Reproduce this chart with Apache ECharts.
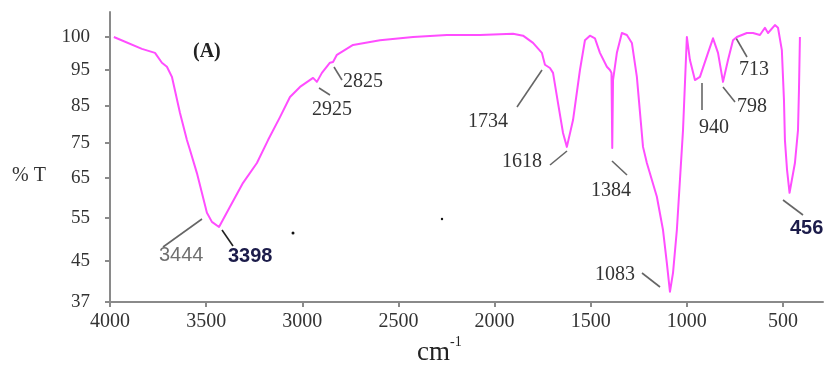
<!DOCTYPE html>
<html><head><meta charset="utf-8">
<script src="https://cdn.jsdelivr.net/npm/echarts@6/dist/echarts.min.js"></script>
<style>html,body{margin:0;padding:0;background:#fff}#c{width:830px;height:369px}</style>
</head><body><div id="c"></div>
<script>
// ---- data ----
const wavenumbers = [3980,3834,3766,3730,3704,3678,3636,3600,3584,3548,3496,3470,3433,3376,3308,3236,3178,3116,3064,3012,2944,2924,2898,2856,2840,2820,2736,2596,2424,2248,2076,1904,1852,1800,1754,1738,1712,1696,1670,1644,1624,1592,1556,1530,1504,1478,1452,1416,1400,1392,1388,1384,1364,1338,1312,1286,1260,1228,1208,1156,1124,1104,1088,1072,1052,1036,1020,1000,984,958,932,890,864,838,812,786,760,740,688,656,620,594,578,542,526,506,495,490,479,466,454,438,422,417,412];
const transmittance = [100.0,98.2,97.6,96.1,95.5,93.1,83.1,75.8,73.0,66.4,56.3,54.1,52.9,57.8,63.8,69.3,75.8,82.0,87.5,90.3,92.8,91.7,94.2,96.1,96.2,97.3,98.8,99.5,100.0,100.3,100.3,100.5,100.2,99.1,97.6,95.8,95.3,94.2,85.8,77.7,73.9,81.2,95.0,99.5,100.2,99.8,97.6,95.5,95.0,94.2,73.6,92.2,97.6,100.6,100.3,99.1,93.1,73.9,69.3,60.3,52.2,44.6,39.0,42.7,52.2,64.5,78.5,100.0,96.5,92.2,93.1,97.6,99.8,97.6,91.7,96.5,99.5,100.0,100.6,100.6,100.3,101.4,100.6,101.8,101.4,98.0,86.7,75.8,67.3,61.3,64.5,69.3,78.5,89.4,100.0];
const yTickLabels = [37,45,55,65,75,85,95,100];
const xTickLabels = [4000,3500,3000,2500,2000,1500,1000,500];
const peakLabels = ['3444','3398','2925','2825','1734','1618','1384','1083','940','798','713','456'];

// ---- layout (axis positions of the reference's unevenly spaced %T ticks) ----
const yTickPos = [0,1.083,2.219,3.275,4.199,5.177,6.128,7.0];
function toPos(v){
  const L = yTickLabels, P = yTickPos;
  let i = 0;
  while (i < L.length - 2 && v > L[i+1]) i++;
  return P[i] + (v - L[i]) * (P[i+1] - P[i]) / (L[i+1] - L[i]);
}
const seriesData = wavenumbers.map((w,i)=>[w, toPos(transmittance[i])]);

const annLayout = {
  '3444':{x:159,y:255,font:'Liberation Sans',w:'normal',c:'#707070',line:[202,219,163,247],lc:'#666'},
  '3398':{x:228,y:256,font:'Liberation Sans',w:'bold',c:'#1c1c4a',line:[222,230,233,246],lc:'#222'},
  '2925':{x:312,y:110,font:'Liberation Serif',w:'normal',c:'#333',line:[319,88,330,95],lc:'#666'},
  '2825':{x:343,y:82,font:'Liberation Serif',w:'normal',c:'#333',line:[334,67,342,80],lc:'#666'},
  '1734':{x:468,y:122,font:'Liberation Serif',w:'normal',c:'#333',line:[542,70,517,107],lc:'#666'},
  '1618':{x:502,y:162,font:'Liberation Serif',w:'normal',c:'#333',line:[567,151,550,165],lc:'#666'},
  '1384':{x:591,y:191,font:'Liberation Serif',w:'normal',c:'#333',line:[612,161,627,175],lc:'#666'},
  '1083':{x:595,y:275,font:'Liberation Serif',w:'normal',c:'#333',line:[642,273,660,287],lc:'#666'},
  '940':{x:699,y:128,font:'Liberation Serif',w:'normal',c:'#333',line:[702,83,702,110],lc:'#666'},
  '798':{x:737,y:107,font:'Liberation Serif',w:'normal',c:'#333',line:[723,87,735,102],lc:'#666'},
  '713':{x:739,y:70,font:'Liberation Serif',w:'normal',c:'#333',line:[736,38,747,57],lc:'#666'},
  '456':{x:790,y:228,font:'Liberation Sans',w:'bold',c:'#1c1c4a',line:[783,200,803,215],lc:'#666'}
};
const graphics = [];
peakLabels.forEach(t=>{
  const a = annLayout[t];
  graphics.push({type:'line',shape:{x1:a.line[0],y1:a.line[1],x2:a.line[2],y2:a.line[3]},style:{stroke:a.lc,lineWidth:1.6}});
  graphics.push({type:'text',x:a.x,y:a.y,style:{text:t,fontFamily:a.font,fontWeight:a.w,fontSize:20,fill:a.c,verticalAlign:'middle'}});
});
graphics.push({type:'text',x:193,y:52,style:{text:'(A)',fontFamily:'Liberation Serif',fontWeight:'bold',fontSize:20,fill:'#222',verticalAlign:'middle'}});
graphics.push({type:'text',x:12,y:176,style:{text:'% T',fontFamily:'Liberation Serif',fontSize:20,fill:'#333',verticalAlign:'middle'}});
graphics.push({type:'text',x:417,y:353,style:{text:'cm',fontFamily:'Liberation Serif',fontSize:27,fill:'#222',verticalAlign:'middle'}});
graphics.push({type:'text',x:450,y:342,style:{text:'-1',fontFamily:'Liberation Serif',fontSize:14,fill:'#222',verticalAlign:'middle'}});
graphics.push({type:'circle',shape:{cx:293,cy:233,r:1.5},style:{fill:'#111'}});
graphics.push({type:'circle',shape:{cx:442,cy:219,r:1.2},style:{fill:'#111'}});

const chart = echarts.init(document.getElementById('c'));
chart.setOption({
  animation:false,
  grid:{left:110,right:7,top:12,bottom:67},
  xAxis:{type:'value',inverse:true,min:292,max:4000,
    axisLine:{show:true,lineStyle:{color:'#8a8a8a',width:2}},
    axisTick:{show:true,customValues:xTickLabels,length:5,lineStyle:{color:'#8a8a8a',width:2}},
    axisLabel:{customValues:xTickLabels,fontFamily:'Liberation Serif',fontSize:20,color:'#333',margin:10,formatter:v=>String(v)},
    splitLine:{show:false}},
  yAxis:{type:'value',min:0,max:7.66,
    axisLine:{show:true,lineStyle:{color:'#8a8a8a',width:2}},
    axisTick:{show:true,customValues:yTickPos,length:5,lineStyle:{color:'#8a8a8a',width:2}},
    axisLabel:{customValues:yTickPos,fontFamily:'Liberation Serif',fontSize:19,color:'#333',margin:20,
      formatter:v=>{let b=0;yTickPos.forEach((p,i)=>{if(Math.abs(p-v)<Math.abs(yTickPos[b]-v))b=i;});return String(yTickLabels[b]);}},
    splitLine:{show:false}},
  series:[{type:'line',data:seriesData,showSymbol:false,symbol:'none',smooth:false,lineStyle:{color:'#ff4dff',width:2,join:'round'},clip:false}],
  graphic:graphics
});
</script></body></html>
